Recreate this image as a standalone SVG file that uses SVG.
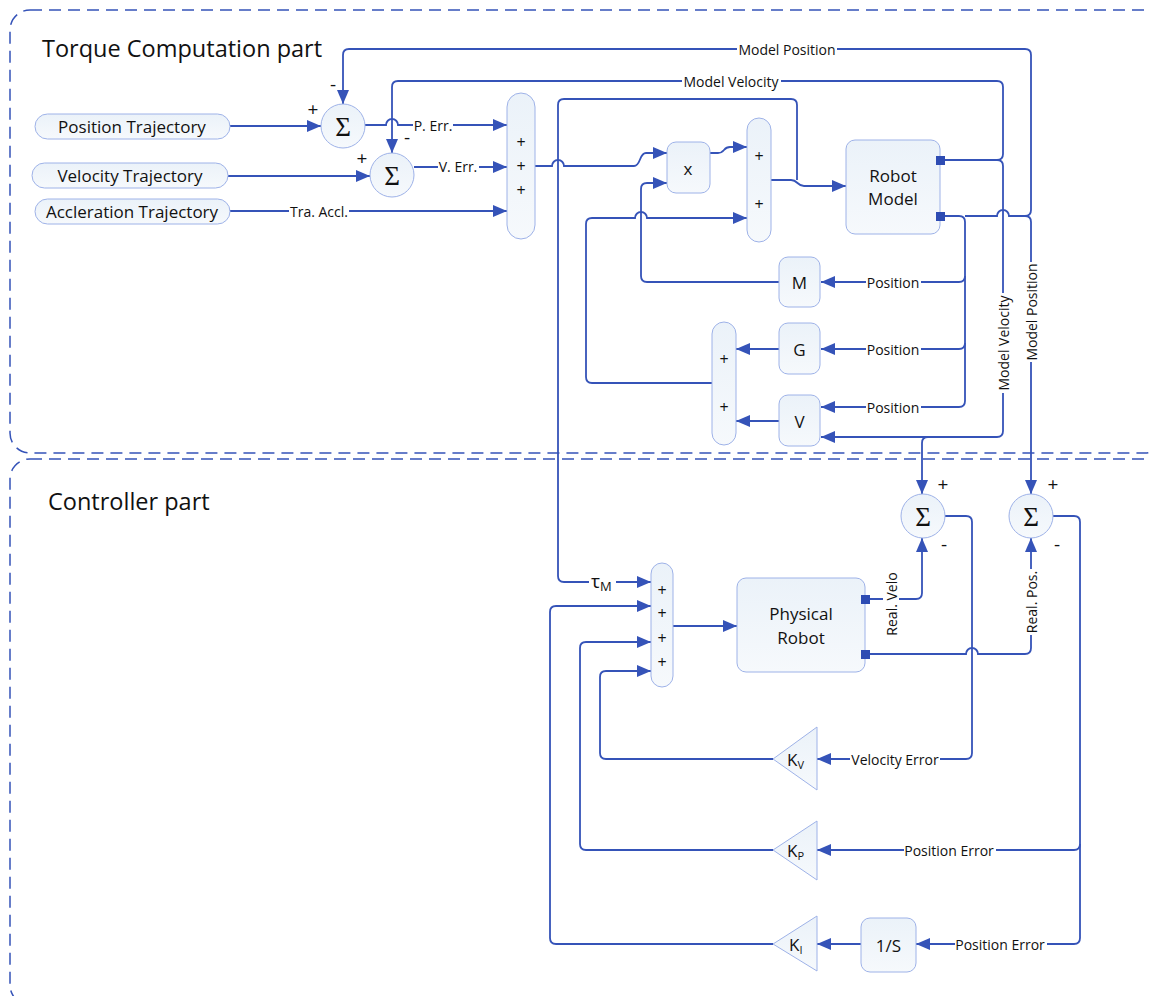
<svg xmlns="http://www.w3.org/2000/svg" width="1150" height="996" viewBox="0 0 1150 996">
<style>
.c{fill:none;stroke:#3553b8;stroke-width:1.8}
.a{marker-end:url(#ah)}
.box{stroke:#9eb2e8;stroke-width:1;fill:url(#g)}
.port{fill:#2e4cb3}
.lbl{fill:#fff}
text{font-family:'Open Sans','Noto Sans',sans-serif;fill:#111}
.t14{font-size:14px;text-anchor:middle;dominant-baseline:central}
.t17{font-size:17px;text-anchor:middle;dominant-baseline:central}
.title{font-size:23.5px}
.sig{font-family:'Liberation Serif','DejaVu Serif',serif;font-size:27px;text-anchor:middle;dominant-baseline:central}
.pm{font-size:19px;text-anchor:middle;dominant-baseline:central}
.pa{font-size:16px;text-anchor:middle;dominant-baseline:central}
.dash{fill:none;stroke:#3553b8;stroke-width:1.5;stroke-dasharray:12 7}
</style>
<defs>
<linearGradient id="g" x1="0" y1="0" x2="0" y2="1"><stop offset="0" stop-color="#ebf2f9"/><stop offset="1" stop-color="#f6f9fc"/></linearGradient>
<marker id="ah" viewBox="0 0 14 12" refX="14" refY="6" markerWidth="14" markerHeight="12" markerUnits="userSpaceOnUse" orient="auto"><path d="M0,0 L14,6 L0,12 z" fill="#3553b8"/></marker>
</defs>
<rect width="1150" height="996" fill="#fff"/>
<g id="containers">
<rect class="dash" x="10" y="10" width="1155" height="443" rx="20"/>
<rect class="dash" x="10" y="459" width="1155" height="546" rx="20"/>
<text class="title" x="42" y="57">Torque Computation part</text>
<text class="title" x="48" y="510">Controller part</text>
</g>
<g id="connectors">
<path class="c a" d="M230,126 H321"/>
<path class="c a" d="M228,176 H370"/>
<path class="c a" d="M230,211 H507"/>
<path class="c a" d="M365,125 H386 a6,6 0 0 1 12,0 H507"/>
<path class="c a" d="M414,167 H507"/>
<path class="c a" d="M535,166 H552 a6,6 0 0 1 12,0 H634 C641,166 639,153 646,153 H667"/>
<path class="c a" d="M779,282 H647 Q641,282 641,276 V189 Q641,183 647,183 H667"/>
<path class="c a" d="M710,153 H718 C725,153 723,147 730,147 H747"/>
<path class="c a" d="M712,383 H592 Q586,383 586,377 V224 Q586,218 592,218 H635 a6,6 0 0 1 12,0 H747"/>
<path class="c a" d="M771,180 H791 C798,180 797,186 804,186 H846"/>
<path class="c a" d="M797,180 V105 Q797,99 791,99 H564 Q558,99 558,105 V576 Q558,582 564,582 H651"/>
<path class="c a" d="M945,160 H997 Q1003,160 1003,154 V87 Q1003,81 997,81 H398 Q392,81 392,87 V153"/>
<path class="c a" d="M997,160 Q1003,160 1003,166 V431 Q1003,437 997,437 H821"/>
<path class="c a" d="M928,437 Q922,437 922,443 V494"/>
<path class="c a" d="M945,216 H959 Q965,216 965,222 V401 Q965,407 959,407 H821"/>
<path class="c a" d="M965,276 Q965,282 959,282 H821"/>
<path class="c a" d="M965,343 Q965,349 959,349 H821"/>
<path class="c a" d="M965,216 H997 a6,6 0 0 1 12,0 H1025 Q1031,216 1031,210 V55 Q1031,49 1025,49 H349 Q343,49 343,55 V104"/>
<path class="c a" d="M1025,216 Q1031,216 1031,222 V494"/>
<path class="c a" d="M779,349 H736"/>
<path class="c a" d="M779,421 H736"/>
<path class="c a" d="M870,599 H916 Q922,599 922,593 V538"/>
<path class="c a" d="M870,654 H966 a6,6 0 0 1 12,0 H1025 Q1031,654 1031,648 V538"/>
<path class="c a" d="M945,516 H966 Q972,516 972,522 V753 Q972,759 966,759 H817"/>
<path class="c a" d="M1053,516 H1074 Q1080,516 1080,522 V938 Q1080,944 1074,944 H916"/>
<path class="c a" d="M1080,844 Q1080,850 1074,850 H817"/>
<path class="c a" d="M861,944 H817"/>
<path class="c a" d="M773,759 H606 Q600,759 600,753 V677 Q600,671 606,671 H651"/>
<path class="c a" d="M773,850 H586 Q580,850 580,844 V648 Q580,642 586,642 H651"/>
<path class="c a" d="M773,944 H556 Q550,944 550,938 V612 Q550,606 556,606 H651"/>
<path class="c a" d="M673,626 H737"/>
<rect class="lbl" x="289" y="203" width="60" height="16"/>
<text class="t14" x="319" y="211">Tra. Accl.</text>
<rect class="lbl" x="413" y="117" width="40" height="16"/>
<text class="t14" x="433" y="125">P. Err.</text>
<rect class="lbl" x="438" y="159" width="41" height="16"/>
<text class="t14" x="458" y="166">V. Err.</text>
<rect class="lbl" x="682" y="73" width="99" height="16"/>
<text class="t14" x="731" y="81">Model Velocity</text>
<rect class="lbl" x="737" y="41" width="100" height="16"/>
<text class="t14" x="787" y="49">Model Position</text>
<rect class="lbl" x="866" y="274" width="55" height="16"/>
<text class="t14" x="893" y="282">Position</text>
<rect class="lbl" x="866" y="341" width="55" height="16"/>
<text class="t14" x="893" y="349">Position</text>
<rect class="lbl" x="866" y="399" width="55" height="16"/>
<text class="t14" x="893" y="407">Position</text>
<rect class="lbl" x="995" y="293" width="16" height="100"/>
<text class="t14" transform="translate(1003,343) rotate(-90)">Model Velocity</text>
<rect class="lbl" x="1023" y="262" width="16" height="100"/>
<text class="t14" transform="translate(1031,312) rotate(-90)">Model Position</text>
<rect class="lbl" x="883" y="571" width="16" height="66"/>
<text class="t14" transform="translate(891,604) rotate(-90)">Real. Velo</text>
<rect class="lbl" x="1023" y="569" width="16" height="66"/>
<text class="t14" transform="translate(1031,602) rotate(-90)">Real. Pos.</text>
<rect class="lbl" x="850" y="751" width="90" height="16"/>
<text class="t14" x="895" y="759">Velocity Error</text>
<rect class="lbl" x="904" y="842" width="92" height="16"/>
<text class="t14" x="949" y="850">Position Error</text>
<rect class="lbl" x="955" y="936" width="92" height="16"/>
<text class="t14" x="1000" y="944">Position Error</text>
<rect class="lbl" x="589" y="572" width="27" height="22"/>
<text x="591" y="588" font-size="19px">τ<tspan font-size="13px" dy="3">M</tspan></text>
</g>
<g id="pos-traj"><rect class="box" x="35" y="114" width="195" height="25" rx="12.5"/><text class="t17" x="132" y="126.5">Position Trajectory</text></g>
<g id="vel-traj"><rect class="box" x="32" y="163" width="196" height="25" rx="12.5"/><text class="t17" x="130" y="175.5">Velocity Trajectory</text></g>
<g id="acc-traj"><rect class="box" x="35" y="199" width="195" height="25" rx="12.5"/><text class="t17" x="132" y="211.5">Accleration Trajectory</text></g>
<g id="sum1"><circle class="box" cx="343" cy="126" r="22"/><text class="sig" x="343" y="127">Σ</text><text class="pm" x="313" y="109">+</text><text class="pm" x="333" y="84">-</text></g>
<g id="sum2"><circle class="box" cx="392" cy="175" r="22"/><text class="sig" x="392" y="176">Σ</text><text class="pm" x="362" y="158">+</text><text class="pm" x="407" y="137">-</text></g>
<g id="acc1"><rect class="box" x="507" y="93" width="28" height="146" rx="14"/><text class="pa" x="521" y="142">+</text><text class="pa" x="521" y="166">+</text><text class="pa" x="521" y="190">+</text></g>
<g id="mult"><rect class="box" x="667" y="142" width="43" height="51" rx="9"/><text class="t17" x="688" y="168">x</text></g>
<g id="acc2"><rect class="box" x="747" y="118" width="24" height="124" rx="12"/><text class="pa" x="759" y="156">+</text><text class="pa" x="759" y="204">+</text></g>
<g id="robot-model"><rect class="box" x="846" y="140" width="94" height="94" rx="9"/><text class="t17" x="893" y="175">Robot</text><text class="t17" x="893" y="198">Model</text><rect class="port" x="936" y="156" width="9" height="9"/><rect class="port" x="936" y="212" width="9" height="9"/></g>
<g id="M"><rect class="box" x="779" y="257" width="41" height="50" rx="9"/><text class="t17" x="799.5" y="282">M</text></g>
<g id="G"><rect class="box" x="779" y="323" width="41" height="51" rx="9"/><text class="t17" x="799.5" y="349">G</text></g>
<g id="V"><rect class="box" x="779" y="395" width="41" height="51" rx="9"/><text class="t17" x="799.5" y="421">V</text></g>
<g id="acc3"><rect class="box" x="712" y="322" width="24" height="123" rx="12"/><text class="pa" x="724" y="359">+</text><text class="pa" x="724" y="407">+</text></g>
<g id="sum3"><circle class="box" cx="923" cy="516" r="22"/><text class="sig" x="923" y="517">Σ</text><text class="pm" x="943" y="484">+</text><text class="pm" x="944" y="544">-</text></g>
<g id="sum4"><circle class="box" cx="1031" cy="516" r="22"/><text class="sig" x="1031" y="517">Σ</text><text class="pm" x="1053" y="484">+</text><text class="pm" x="1057" y="544">-</text></g>
<g id="acc4"><rect class="box" x="651" y="563" width="22" height="124" rx="11"/><text class="pa" x="662" y="590">+</text><text class="pa" x="662" y="613">+</text><text class="pa" x="662" y="638">+</text><text class="pa" x="662" y="662">+</text></g>
<g id="physical-robot"><rect class="box" x="737" y="578" width="128" height="94" rx="9"/><text class="t17" x="801" y="613">Physical</text><text class="t17" x="801" y="637">Robot</text><rect class="port" x="861" y="595" width="9" height="9"/><rect class="port" x="861" y="650" width="9" height="9"/></g>
<g id="Kv"><polygon class="box" points="773,759 817,727 817,790"/><text x="787" y="766" font-size="17px">K<tspan font-size="11px" dy="3">V</tspan></text></g>
<g id="Kp"><polygon class="box" points="773,850 817,821 817,880"/><text x="787" y="857" font-size="17px">K<tspan font-size="11px" dy="3">P</tspan></text></g>
<g id="Ki"><polygon class="box" points="773,944 817,916 817,971"/><text x="789" y="951" font-size="17px">K<tspan font-size="11px" dy="3">I</tspan></text></g>
<g id="integrator"><rect class="box" x="861" y="918" width="55" height="54" rx="9"/><text class="t17" x="888.5" y="945">1/S</text></g>
</svg>
